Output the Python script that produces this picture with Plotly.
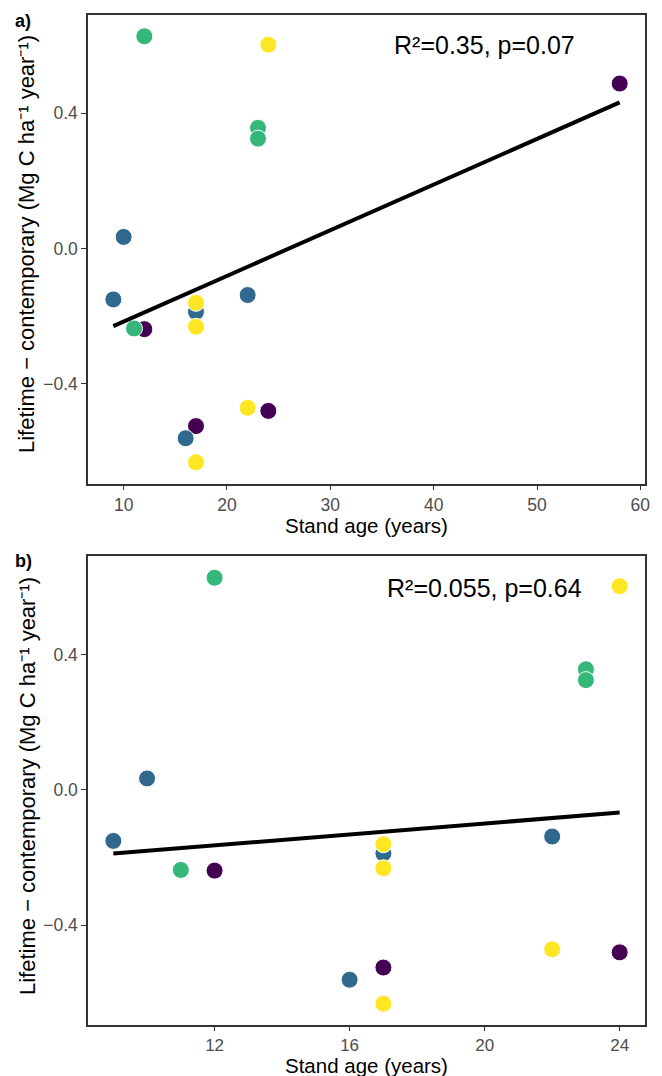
import numpy as np
import plotly.graph_objects as go
from plotly.subplots import make_subplots

# Stand age (years) and lifetime - contemporary difference, by group
groups = ["A", "B", "C", "D"]
group_colors = ["#440154", "#31688E", "#35B779", "#FDE725"]

age_A = [58, 12, 24, 17]
diff_A = [0.488, -0.239, -0.481, -0.526]

age_B = [10, 9, 17, 22, 16]
diff_B = [0.034, -0.151, -0.188, -0.138, -0.562]

age_C = [12, 23, 23, 11]
diff_C = [0.628, 0.357, 0.325, -0.237]

age_D = [24, 17, 17, 22, 17]
diff_D = [0.603, -0.161, -0.232, -0.472, -0.633]

ages = [age_A, age_B, age_C, age_D]
diffs = [diff_A, diff_B, diff_C, diff_D]

stats_a = "R²=0.35, p=0.07"
stats_b = "R²=0.055, p=0.64"
max_age_b = 24  # panel b excludes the oldest stand

xticks_a = [10, 20, 30, 40, 50, 60]
xticks_b = [12, 16, 20, 24]
yticks = [-0.4, 0.0, 0.4]

fig = make_subplots(rows=2, cols=1, vertical_spacing=0.0722)

all_x = np.array(sum(ages, []), dtype=float)
all_y = np.array(sum(diffs, []), dtype=float)

for row, limit in [(1, None), (2, max_age_b)]:
    for g, col, xs, ys in zip(groups, group_colors, ages, diffs):
        xs2 = [x for x in xs if limit is None or x <= limit]
        ys2 = [y for x, y in zip(xs, ys) if limit is None or x <= limit]
        fig.add_trace(go.Scatter(
            x=xs2, y=ys2, mode="markers", name=g, showlegend=False,
            marker=dict(color=col, size=17, line=dict(color="white", width=1)),
        ), row=row, col=1)
    mask = np.ones_like(all_x, dtype=bool) if limit is None else all_x <= limit
    xx, yy = all_x[mask], all_y[mask]
    slope, icpt = np.polyfit(xx, yy, 1)
    xl = np.array([xx.min(), xx.max()])
    fig.add_trace(go.Scatter(
        x=xl, y=icpt + slope * xl, mode="lines", showlegend=False,
        line=dict(color="black", width=4),
    ), row=row, col=1)

def xrange(xx):
    span = xx.max() - xx.min()
    return [xx.min() - 0.05 * span, xx.max() + 0.05 * span]

yspan = all_y.max() - all_y.min()
yr = [all_y.min() - 0.05 * yspan, all_y.max() + 0.05 * yspan]

FONT = "Liberation Sans, Arial"
axis_common = dict(showline=True, mirror=True, linecolor="#333333", linewidth=1.5,
                   ticks="outside", tickcolor="#333333", tickwidth=1.2,
                   showgrid=False, zeroline=False)

fig.update_xaxes(range=xrange(all_x), tickvals=xticks_a, row=1, col=1, ticklen=5,
                 tickfont=dict(family=FONT, size=17.5, color="#4d4d4d"), **axis_common)
fig.update_xaxes(range=xrange(all_x[all_x <= max_age_b]), tickvals=xticks_b, row=2, col=1, ticklen=4,
                 tickfont=dict(family=FONT, size=17, color="#4d4d4d"), **axis_common)
for r in (1, 2):
    fig.update_yaxes(range=yr, tickvals=yticks, tickformat=".1f", row=r, col=1, ticklen=5,
                     tickfont=dict(family=FONT, size=17.5, color="#4d4d4d"), **axis_common)

fig.update_layout(
    width=662, height=1076,
    margin=dict(l=88, r=17, t=15, b=51),
    paper_bgcolor="white", plot_bgcolor="white",
    font=dict(family=FONT, color="black"),
)

xtitle_font = dict(family=FONT, size=20.5, color="black")
ytitle_font = dict(family=FONT, size=22, color="black")
ylab = "Lifetime − contemporary (Mg C ha⁻¹ year⁻¹)"
H = 1010.0
def py(pix):  # paper y from pixel y
    return (1025 - pix) / H
def px(pix):
    return (pix - 88) / (662 - 88 - 17)

anns = [
    dict(text=stats_a, x=px(484), y=py(45), font=dict(family=FONT, size=25, color="black")),
    dict(text=stats_b, x=px(484), y=py(588), font=dict(family=FONT, size=25, color="black")),
    dict(text="Stand age (years)", x=px(366), y=py(525), font=xtitle_font),
    dict(text="Stand age (years)", x=px(366), y=py(1065.5), font=xtitle_font),
    dict(text=ylab, x=px(27), y=py(244), textangle=-90, font=ytitle_font),
    dict(text=ylab, x=px(27), y=py(786), textangle=-90, font=ytitle_font),
    dict(text="<b>a)</b>", x=px(23), y=py(21), font=dict(family=FONT, size=18, color="black")),
    dict(text="<b>b)</b>", x=px(23), y=py(561), font=dict(family=FONT, size=18, color="black")),
]
for a in anns:
    fig.add_annotation(xref="paper", yref="paper", showarrow=False,
                       xanchor="center", yanchor="middle", **a)

fig.write_html("out.html", config={"displayModeBar": False},
               post_script="document.body.style.margin='0';document.body.style.overflow='hidden';")
